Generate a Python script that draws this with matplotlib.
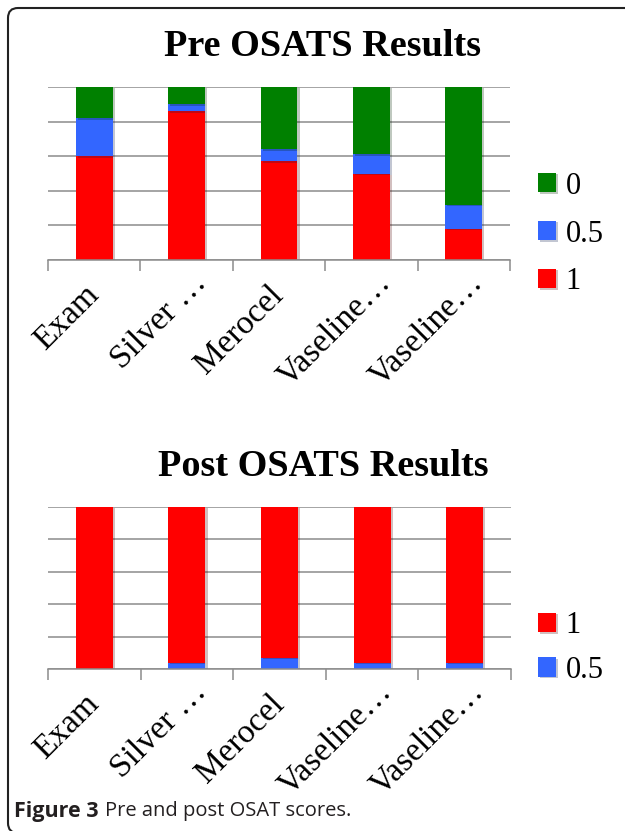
import matplotlib
matplotlib.use("Agg")
import matplotlib.pyplot as plt
import matplotlib.patches as mpatches
import matplotlib.patheffects as pe
from matplotlib.transforms import IdentityTransform, ScaledTranslation
import numpy as np

# data (percent of participants per score)
groups = ["Exam", "Silver \u2026", "Merocel", "Vaseline\u2026", "Vaseline\u2026"]
pre_score_1 = [60, 86, 57, 50, 18]
pre_score_05 = [22, 4, 7, 11, 14]
pre_score_0 = [18, 10, 36, 39, 68]
post_score_05 = [0, 4, 7, 4, 4]
post_score_1 = [100, 96, 93, 96, 96]

RED = "#ff0000"
BLUE = "#3366ff"
GREEN = "#008000"
GRID = "#8c8c8c"
SERIF = "Liberation Serif"

W, H = 625, 831
fig = plt.figure(figsize=(W / 100, H / 100), dpi=100)
fig.patch.set_facecolor("white")


def px_axes(left, top, right, bottom):
    return fig.add_axes([left / W, 1 - bottom / H, (right - left) / W, (bottom - top) / H])


def style_axes(ax):
    x = np.arange(len(groups))
    ax.set_xlim(-0.5, len(groups) - 0.5)
    ax.set_ylim(0, 100)
    ax.set_yticks(range(0, 101, 20))
    ax.set_yticklabels([])
    ax.tick_params(axis="y", length=0)
    ax.grid(axis="y", color=GRID, linewidth=1.1)
    ax.set_axisbelow(True)
    for s in ["left", "right", "top"]:
        ax.spines[s].set_visible(False)
    ax.spines["bottom"].set_color(GRID)
    ax.spines["bottom"].set_linewidth(1.1)
    ax.set_xticks(x)
    ax.set_xticklabels(groups, rotation=45, ha="right", va="center",
                       rotation_mode="anchor", fontfamily=SERIF, fontsize=24)
    ax.tick_params(axis="x", which="major", length=0, pad=22)
    ax.set_xticks(np.arange(-0.5, len(groups), 1), minor=True)
    ax.tick_params(axis="x", which="minor", length=8, width=1.1, color=GRID)
    # truncated labels overflow past the anchor, as in the original
    for lab in ax.get_xticklabels():
        if lab.get_text().endswith("\u2026"):
            lab.set_transform(lab.get_transform() + ScaledTranslation(11 / 72, 9 / 72, fig.dpi_scale_trans))
    return x


shadow = [pe.SimplePatchShadow(offset=(1.5, -1), alpha=0.25), pe.Normal()]

# Pre chart
ax1 = px_axes(48, 87, 510, 260)
x = style_axes(ax1)
bw = 0.4
b1 = ax1.bar(x, pre_score_1, bw, color=RED, label="1", path_effects=shadow)
b2 = ax1.bar(x, pre_score_05, bw, bottom=pre_score_1, color=BLUE, label="0.5", path_effects=shadow)
bottom0 = np.array(pre_score_1) + np.array(pre_score_05)
b3 = ax1.bar(x, pre_score_0, bw, bottom=bottom0, color=GREEN, label="0", path_effects=shadow)
fig.text(322 / W, 1 - 46 / H, "Pre OSATS Results", ha="center", va="center",
         fontfamily=SERIF, fontweight="bold", fontsize=27.5)
fig.legend([b3, b2, b1], ["0", "0.5", "1"], loc="center left",
           bbox_to_anchor=(538 / W, 1 - 234 / H), frameon=False,
           prop={"family": SERIF, "size": 22}, handlelength=0.6, handleheight=0.6,
           handletextpad=0.3, labelspacing=0.62, borderpad=0, borderaxespad=0)

# Post chart
ax2 = px_axes(48, 507, 511, 669)
x = style_axes(ax2)
c1 = ax2.bar(x, post_score_05, bw, color=BLUE, label="0.5", path_effects=shadow)
c2 = ax2.bar(x, post_score_1, bw, bottom=post_score_05, color=RED, label="1", path_effects=shadow)
fig.text(323 / W, 1 - 466 / H, "Post OSATS Results", ha="center", va="center",
         fontfamily=SERIF, fontweight="bold", fontsize=27.5)
fig.legend([c2, c1], ["1", "0.5"], loc="center left",
           bbox_to_anchor=(538 / W, 1 - 648 / H), frameon=False,
           prop={"family": SERIF, "size": 22}, handlelength=0.6, handleheight=0.6,
           handletextpad=0.3, labelspacing=0.5, borderpad=0, borderaxespad=0)

# outer rounded frame
frame = mpatches.FancyBboxPatch((8, -2), 660, 825, boxstyle="round,pad=0,rounding_size=10",
                                transform=IdentityTransform(), facecolor="none",
                                edgecolor="#222222", linewidth=1.5)
fig.add_artist(frame)

# caption
t1 = fig.text(14 / W, 1 - 811 / H, "Figure 3", ha="left", va="center",
              fontfamily="Open Sans", fontweight="bold", fontsize=15.5, color="#231f20")
fig.canvas.draw()
bb = t1.get_window_extent()
fig.text((bb.x1 + 6) / W, 1 - 811 / H, "Pre and post OSAT scores.", ha="left", va="center",
         fontfamily="Open Sans", fontsize=14.5, color="#231f20")

fig.savefig("out.png", dpi=100)
